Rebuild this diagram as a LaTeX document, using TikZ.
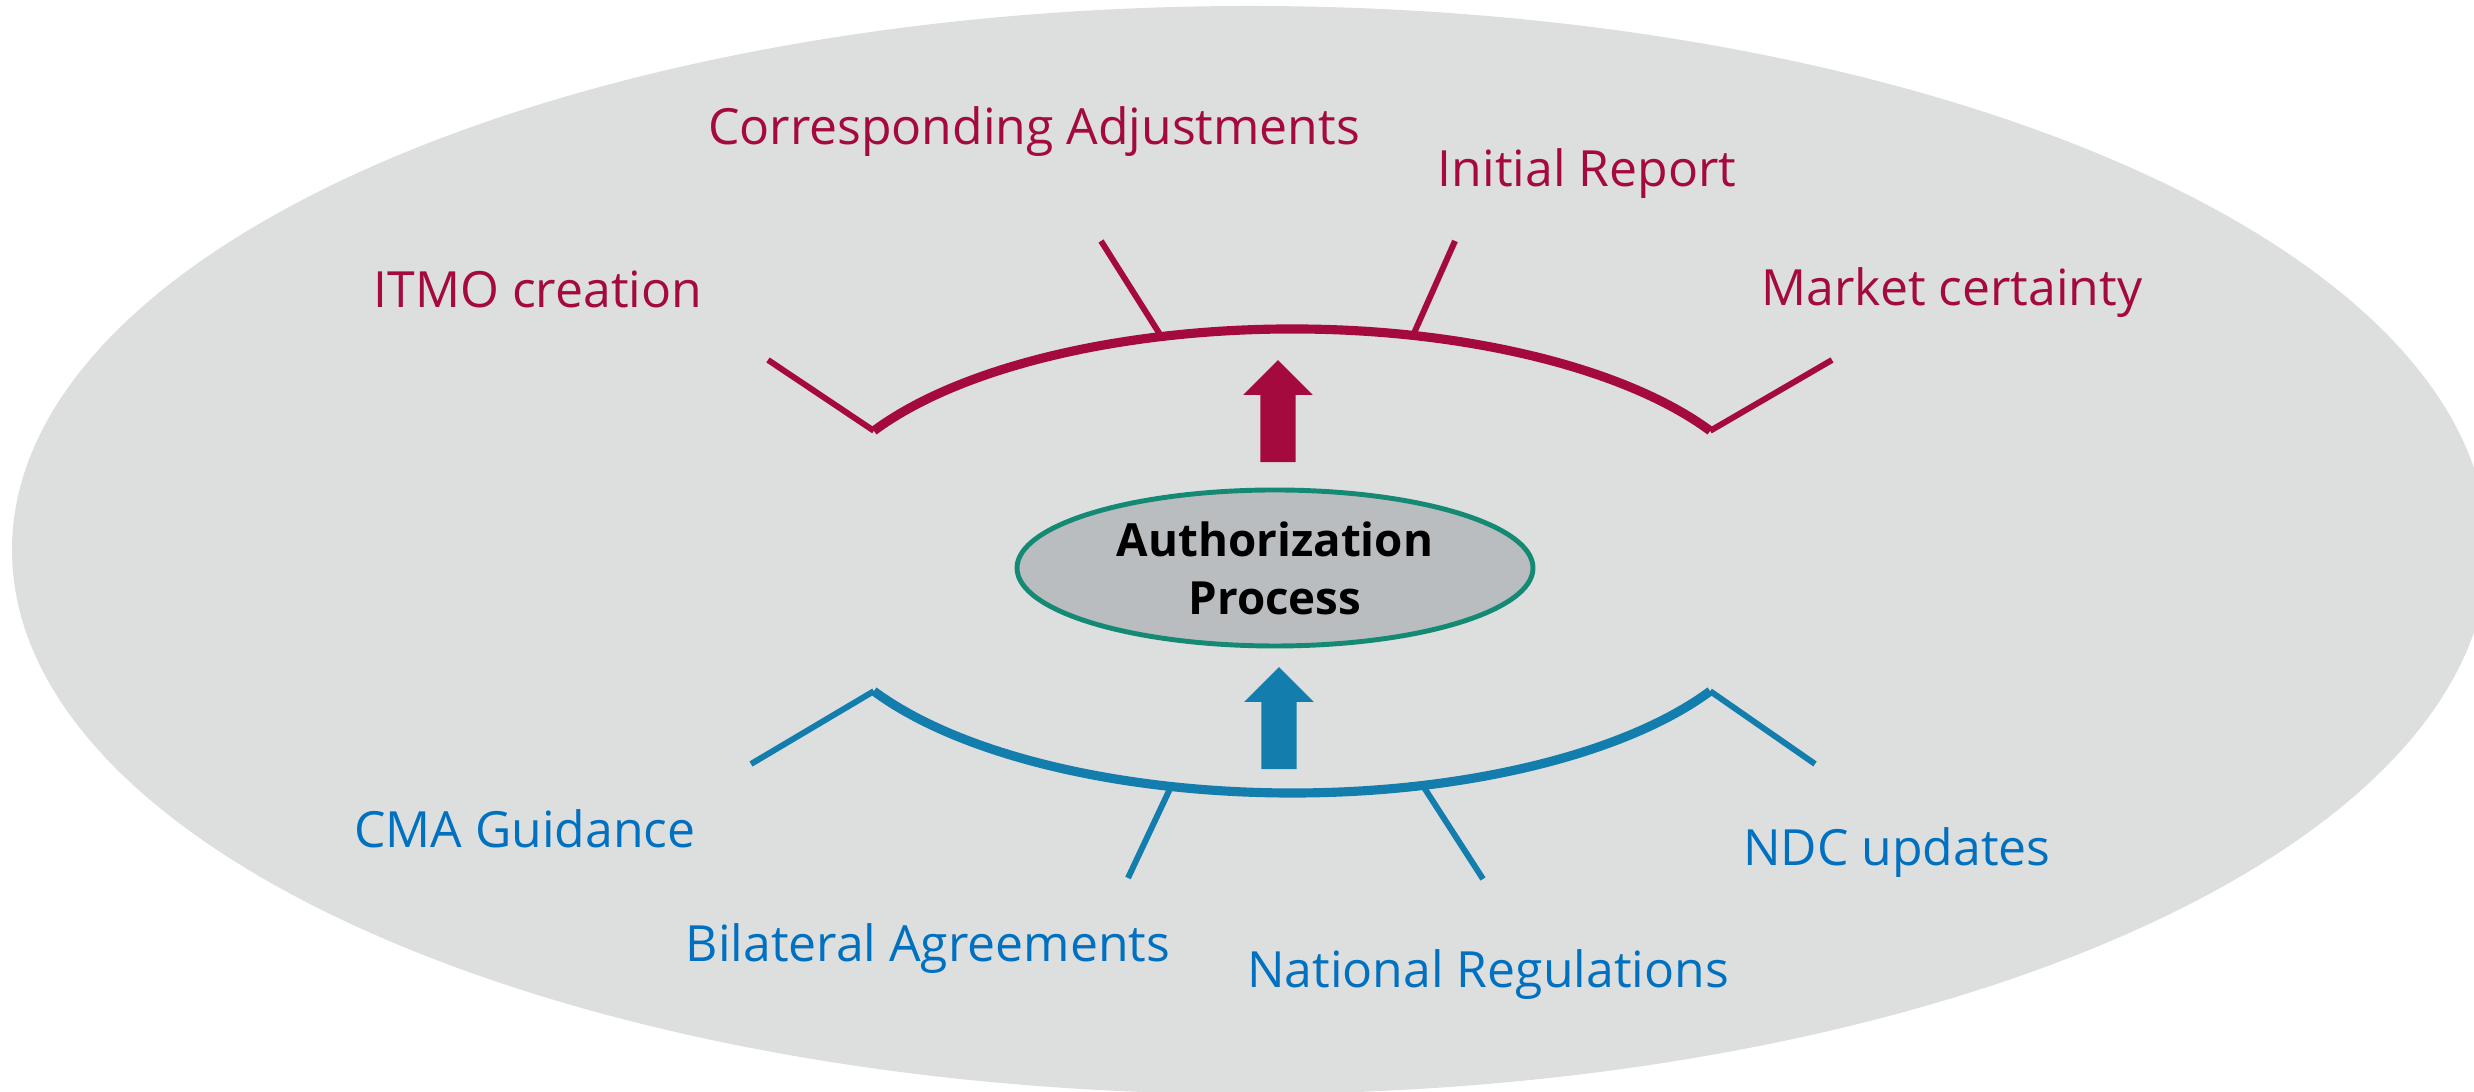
\documentclass[tikz,border=0pt]{standalone}
\usepackage{fontspec}
\setmainfont{Open Sans}
\usetikzlibrary{positioning,shapes.geometric,shapes.arrows,calc}
\definecolor{authRed}{RGB}{165,10,62}
\definecolor{authBlue}{RGB}{19,125,173}
\definecolor{textBlue}{RGB}{0,112,192}
\definecolor{authTeal}{RGB}{20,138,116}
\definecolor{grayBg}{RGB}{221,223,222}
\definecolor{grayCore}{RGB}{186,189,191}

\begin{document}
\begin{tikzpicture}[
  lbl/.style={font=\fontsize{14.2}{17}\selectfont,anchor=base,inner sep=0pt},
  core/.style={ellipse,draw=authTeal,line width=1.4pt,fill=grayCore,minimum width=5.16cm,minimum height=1.56cm,align=center,inner sep=0pt,font=\fontsize{13}{16.5}\selectfont\bfseries},
  uparr/.style={single arrow,rotate=90,draw=none,inner xsep=0pt,inner ysep=0.17cm,minimum height=1.02cm,single arrow head extend=0.17cm},
  arcline/.style={line width=2.6pt},
  armline/.style={line width=1.7pt}]
\useasboundingbox (0,0) rectangle (24.74,10.92);
\begin{scope}
\clip (0,0) rectangle (24.74,10.92);
\node[ellipse,fill=grayBg,minimum width=24.76cm,minimum height=10.88cm,inner sep=0pt] (field) at (12.50,5.42) {};
\end{scope}
% process in the middle
\node[core] (auth) at (12.75,5.24) {Authorization\\Process};
\node[uparr,fill=authRed] (uptop) at (12.78,6.72) {};
\node[uparr,fill=authBlue] (upbot) at (12.79,3.65) {};
% outcomes (upper arc)
\coordinate (rc) at (12.92,5.63);
\coordinate (rvl) at ($(rc)+(150.6:4.8 and 2.0)$);
\coordinate (rvr) at ($(rc)+(29.4:4.8 and 2.0)$);
\coordinate (rtl) at ($(rc)+(105.8:4.8 and 2.0)$);
\coordinate (rtr) at ($(rc)+(75.4:4.8 and 2.0)$);
\coordinate (rl) at (7.68,7.32);
\coordinate (rr) at (18.32,7.32);
\coordinate (rl2) at (11.01,8.51);
\coordinate (rr2) at (14.55,8.51);
\draw[authRed,arcline] (rvl) arc[start angle=150.6,end angle=29.4,x radius=4.8,y radius=2.0];
\draw[authRed,armline] (rl) -- (rvl);
\draw[authRed,armline] (rr) -- (rvr);
\draw[authRed,armline] (rtl) -- (rl2);
\draw[authRed,armline] (rtr) -- (rr2);
\node[lbl,text=authRed] (itmo) at (5.38,7.84) {ITMO creation};
\node[lbl,text=authRed] (adj) at (10.34,9.47) {Corresponding Adjustments};
\node[lbl,text=authRed] (rep) at (15.87,9.05) {Initial Report};
\node[lbl,text=authRed] (mkt) at (19.52,7.86) {Market certainty};
% inputs (lower arc)
\coordinate (bc) at (12.92,4.99);
\coordinate (bvl) at ($(bc)+(209.4:4.8 and 2.0)$);
\coordinate (bvr) at ($(bc)+(330.6:4.8 and 2.0)$);
\coordinate (btl) at ($(bc)+(255.4:4.8 and 2.0)$);
\coordinate (btr) at ($(bc)+(285.8:4.8 and 2.0)$);
\coordinate (bl) at (7.51,3.28);
\coordinate (br) at (18.15,3.28);
\coordinate (bl2) at (11.28,2.14);
\coordinate (br2) at (14.83,2.13);
\draw[authBlue,arcline] (bvl) arc[start angle=209.4,end angle=330.6,x radius=4.8,y radius=2.0];
\draw[authBlue,armline] (bl) -- (bvl);
\draw[authBlue,armline] (br) -- (bvr);
\draw[authBlue,armline] (btl) -- (bl2);
\draw[authBlue,armline] (btr) -- (br2);
\node[lbl,text=textBlue] (cma) at (5.25,2.44) {CMA Guidance};
\node[lbl,text=textBlue] (bil) at (9.28,1.30) {Bilateral Agreements};
\node[lbl,text=textBlue] (nat) at (14.88,1.04) {National Regulations};
\node[lbl,text=textBlue] (ndc) at (18.97,2.26) {NDC updates};
\end{tikzpicture}
\end{document}
